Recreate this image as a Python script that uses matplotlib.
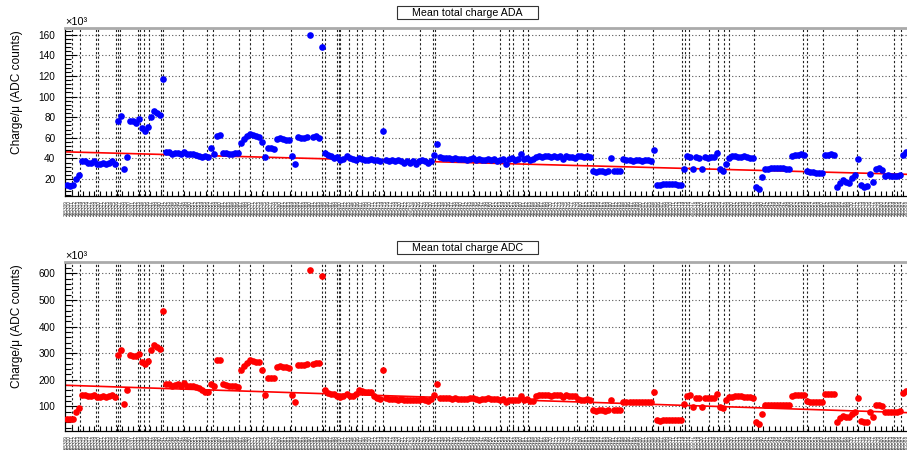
import numpy as np
import matplotlib
matplotlib.use("Agg")
from matplotlib import pyplot as plt
from matplotlib.patches import Rectangle
from matplotlib.ticker import FixedLocator, MultipleLocator

plt.rcParams["font.family"] = ["Liberation Sans", "DejaVu Sans"]

# mean total charge per run, in units of 1e3 ADC counts
ada_charge = [
    14, 13, 14, 20, 24, 37, 37, 36, 36, 37, 35, 35, 36, 35, 36, 37, 35, 76, 81, 30,
    41, 76, 76, 74, 78, 69, 67, 70, 80, 86, 84, 82, 117, 46, 46, 44, 45, 45, 44, 46,
    44, 44, 44, 43, 42, 41, 42, 41, 50, 44, 62, 63, 45, 45, 44, 44, 45, 45, 55, 59,
    62, 64, 63, 62, 61, 56, 41, 50, 50, 49, 59, 60, 59, 58, 58, 42, 35, 61, 60, 60,
    61, 160, 61, 62, 60, 148, 45, 43, 42, 40, 41, 38, 39, 42, 40, 39, 38, 40, 39, 38,
    38, 39, 38, 38, 37, 67, 38, 37, 38, 37, 38, 37, 36, 37, 36, 37, 35, 37, 38, 37,
    36, 37, 43, 54, 41, 40, 40, 40, 39, 40, 39, 39, 39, 38, 39, 40, 38, 39, 38, 38,
    39, 38, 39, 37, 38, 39, 35, 39, 40, 38, 39, 44, 39, 40, 38, 39, 41, 42, 41, 42,
    42, 41, 42, 41, 42, 39, 42, 41, 41, 40, 42, 42, 41, 42, 41, 28, 27, 28, 28, 27,
    28, 40, 28, 28, 28, 39, 38, 38, 37, 38, 38, 37, 38, 38, 37, 48, 14, 14, 15, 15,
    15, 15, 15, 14, 14, 30, 42, 41, 30, 41, 40, 30, 41, 40, 41, 41, 45, 30, 28, 35,
    40, 42, 42, 41, 41, 42, 41, 40, 40, 12, 10, 22, 30, 30, 31, 31, 31, 31, 31, 30,
    30, 42, 43, 43, 44, 43, 28, 27, 27, 26, 26, 26, 43, 43, 44, 43, 12, 16, 19, 17,
    16, 21, 24, 39, 14, 12, 13, 25, 17, 30, 31, 29, 23, 24, 23, 23, 23, 24, 43, 46,
]
adc_charge = [
    53, 52, 54, 79, 95, 141, 143, 140, 138, 142, 136, 135, 137, 135, 138, 144, 135, 292, 311, 110,
    160, 292, 291, 288, 298, 267, 261, 270, 311, 332, 325, 317, 458, 185, 184, 178, 180, 182, 176, 188,
    177, 176, 175, 172, 168, 160, 154, 152, 185, 176, 273, 275, 182, 180, 176, 175, 178, 174, 236, 250,
    262, 273, 272, 267, 265, 236, 141, 207, 207, 205, 248, 250, 247, 246, 245, 141, 116, 257, 255, 256,
    258, 612, 260, 263, 262, 591, 160, 150, 148, 145, 140, 135, 140, 148, 138, 140, 148, 160, 158, 155,
    154, 152, 140, 130, 128, 236, 130, 128, 127, 126, 125, 127, 124, 125, 123, 122, 124, 122, 127, 123,
    121, 126, 141, 185, 131, 133, 130, 131, 129, 130, 128, 129, 127, 128, 130, 133, 126, 125, 128, 129,
    130, 126, 127, 126, 124, 126, 118, 123, 125, 122, 124, 140, 123, 126, 120, 121, 140, 141, 141, 142,
    141, 140, 142, 141, 141, 136, 141, 139, 140, 139, 126, 125, 124, 126, 125, 85, 84, 86, 85, 84,
    86, 123, 85, 86, 85, 118, 116, 117, 115, 117, 116, 116, 117, 118, 116, 154, 47, 46, 48, 49,
    49, 48, 48, 47, 47, 110, 139, 141, 97, 131, 130, 97, 133, 132, 130, 133, 148, 97, 92, 123,
    135, 136, 137, 138, 137, 136, 135, 134, 133, 41, 32, 72, 104, 103, 104, 105, 106, 105, 104, 105,
    103, 140, 141, 142, 143, 142, 120, 118, 117, 116, 116, 115, 145, 146, 146, 145, 42, 55, 62, 58,
    60, 70, 79, 131, 45, 41, 42, 79, 60, 104, 106, 100, 80, 80, 78, 79, 80, 82, 150, 158,
]
# linear fit, value at first and last run
ada_fit_ends = [46.3, 24.5]
adc_fit_ends = [179, 76]
# fill boundaries (in run-index units)
fill_edges = [
    2.33, 4.99, 10.14, 10.81, 16.96, 17.63, 18.29, 24.28, 24.94, 26.27, 27.93, 31.93,
    32.59, 39.24, 47.22, 49.22, 57.86, 61.52, 65.85, 75.16, 85.47, 86.47, 90.46, 90.95,
    91.45, 94.45, 97.11, 98.77, 103.09, 105.75, 118.06, 122.38, 123.05, 135.35, 144.33,
    147.32, 148.65, 151.98, 153.64, 169.94, 173.27, 175.26, 185.57, 195.21, 204.86,
    205.85, 207.18, 213.83, 216.83, 218.82, 220.48, 228.80, 245.09, 246.43, 251.75,
    263.05, 275.36, 277.69,
]
n_runs = len(ada_charge)
run_labels = [str(r) for r in range(265309, 265309 + n_runs)]

W, H = 907, 450


def draw_panel(fig, rect, values, color, fit_ends, ylim, major, minor, title, title_top):
    ax = fig.add_axes(rect)
    x = np.arange(n_runs) + 0.5
    for v in fill_edges:
        ax.axvline(v, color="#222222", linestyle=(0, (2, 2)), linewidth=0.8, zorder=1)
    ax.plot([0.5, n_runs], fit_ends, color="red", linewidth=1.2, zorder=2)
    ax.plot(x, values, "o", color=color, markersize=4.8, markeredgewidth=0, zorder=3)
    ax.set_xlim(0, n_runs)
    ax.set_ylim(*ylim)

    ax.yaxis.set_major_locator(MultipleLocator(major))
    ax.yaxis.set_minor_locator(MultipleLocator(minor))
    ax.yaxis.grid(True, which="major", color="#555555", linestyle=(0, (1, 2)), linewidth=0.8)
    ax.set_axisbelow(True)
    ax.tick_params(axis="y", which="major", direction="in", length=8.5, width=0.8,
                   labelsize=7.2, pad=7)
    ax.tick_params(axis="y", which="minor", direction="in", length=4.3, width=0.8)

    ax.set_xticks(x, run_labels, rotation=90, fontsize=3.4, color="#333333")
    ax.tick_params(axis="x", which="major", length=0, pad=3)
    ax.xaxis.set_minor_locator(FixedLocator(np.arange(0.5, n_runs, 1.852)))
    ax.tick_params(axis="x", which="minor", direction="in", length=3.6, width=0.8)

    ax.spines["right"].set_visible(False)
    ax.spines["top"].set_color("#aaaaaa")
    ax.spines["top"].set_linewidth(2)
    ax.spines["left"].set_linewidth(0.9)
    ax.spines["bottom"].set_linewidth(0.9)

    ax.text(0.0, 1.008, "×10³", transform=ax.transAxes, fontsize=7.8, ha="left", va="bottom")
    top_px = (1 - rect[1] - rect[3]) * H
    fig.text(17 / W, 1 - (top_px + 2) / H, "Charge/μ (ADC counts)", rotation=90,
             ha="center", va="top", fontsize=8.6)

    fig.add_artist(Rectangle((397 / W, 1 - (title_top + 13) / H), 141 / W, 13 / H,
                             transform=fig.transFigure, facecolor="white",
                             edgecolor="#333333", linewidth=0.8))
    fig.text(467.5 / W, 1 - (title_top + 6.5) / H, title, ha="center", va="center", fontsize=7.7)
    return ax


fig = plt.figure(figsize=(W / 100, H / 100), dpi=100)
draw_panel(fig, [65 / W, 254 / H, 843 / W, 168 / H], ada_charge, "blue", ada_fit_ends,
           (3.5, 166.5), 20, 4, "Mean total charge ADA", 6)
draw_panel(fig, [65 / W, 19 / H, 843 / W, 169 / H], adc_charge, "red", adc_fit_ends,
           (7, 643), 100, 20, "Mean total charge ADC", 241)
fig.savefig("out.png", dpi=100)
